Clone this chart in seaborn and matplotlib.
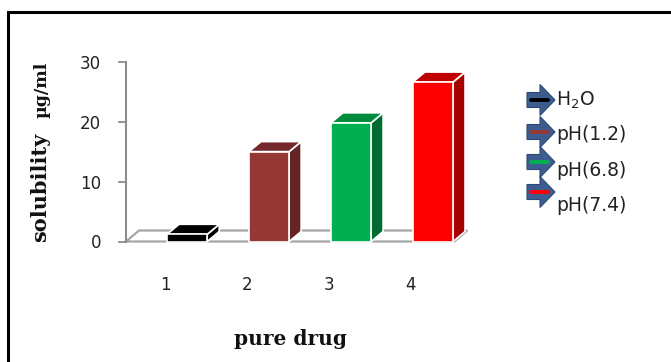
import numpy as np
import pandas as pd
import matplotlib
matplotlib.use("Agg")
import matplotlib.pyplot as plt
from matplotlib.patches import Polygon, Rectangle
from matplotlib.lines import Line2D
import seaborn as sns

# Solubility of the pure drug in each medium (µg/ml)
media = ["H$_2$O", "pH(1.2)", "pH(6.8)", "pH(7.4)"]
groups = ["1", "2", "3", "4"]
solubility = [1.2, 15.0, 19.8, 26.6]
front_colors = ["#000000", "#953735", "#00b050", "#ff0000"]
side_colors = ["#000000", "#632523", "#006b30", "#a80000"]
top_colors = ["#000000", "#72282a", "#008a3c", "#c00000"]
y_ticks = [0, 10, 20, 30]

df = pd.DataFrame({"group": groups, "solubility": solubility, "medium": media})

sns.set_theme(style="white")
plt.rcParams["font.family"] = ["DejaVu Sans"]
plt.rcParams["mathtext.default"] = "regular"

W, H = 671, 362
fig = plt.figure(figsize=(W / 100, H / 100), dpi=100)
fig.patch.set_facecolor("white")

def fx(px):
    return px / W

def fy(py):
    return 1 - py / H

ax_left, ax_right, ax_top, ax_bottom = 126, 480, 61.7, 241.5
ax = fig.add_axes([fx(ax_left), fy(ax_bottom), fx(ax_right - ax_left), (ax_bottom - ax_top) / H])
ax.set_facecolor("none")

sns.barplot(data=df, x="group", y="solubility", hue="group", palette=front_colors,
            saturation=1, width=0.49, edgecolor="white", linewidth=1.2, legend=False,
            ax=ax, zorder=3)

xmin, xmax = -0.746, 3.574
ax.set_xlim(xmin, xmax)
ax.set_ylim(0, 30)

# pixel -> data conversion for the 3D depth
ppx = (ax_right - ax_left) / (xmax - xmin)
ppy = (ax_bottom - ax_top) / 30.0
dxd, dyd = 12 / ppx, 10 / ppy

# floor of the 3D chart
floor_right = 3.26
floor = Polygon([(xmin, 0), (floor_right, 0), (floor_right + 13 / ppx, 11 / ppy),
                 (xmin + 13 / ppx, 11 / ppy)], closed=True, facecolor="white",
                edgecolor="#a6a6a6", linewidth=1.6, zorder=1, clip_on=False)
ax.add_patch(floor)

# side and top faces of each bar
for patch, sc, tc in zip(ax.patches[:len(groups)], side_colors, top_colors):
    x0 = patch.get_x()
    w = patch.get_width()
    h = patch.get_height()
    x1 = x0 + w
    side = Polygon([(x1, 0), (x1 + dxd, dyd), (x1 + dxd, h + dyd), (x1, h)], closed=True,
                   facecolor=sc, edgecolor="white", linewidth=1.2, zorder=2.5, clip_on=False)
    top = Polygon([(x0, h), (x1, h), (x1 + dxd, h + dyd), (x0 + dxd, h + dyd)], closed=True,
                  facecolor=tc, edgecolor="white", linewidth=1.2, zorder=2.6, clip_on=False)
    ax.add_patch(side)
    ax.add_patch(top)
    patch.set_clip_on(False)

for s in ["top", "right", "bottom"]:
    ax.spines[s].set_visible(False)
ax.spines["left"].set_color("#8c8c8c")
ax.spines["left"].set_linewidth(1.5)

ax.set_yticks(y_ticks)
ax.set_yticklabels([str(t) for t in y_ticks], fontsize=12, color="#222222")
ax.tick_params(axis="y", left=True, length=6, width=1.3, color="#8c8c8c", pad=12)

ax.set_xticks(np.arange(len(groups)) - 0.27)
ax.set_xticklabels(groups, fontsize=12, color="#222222")
ax.tick_params(axis="x", bottom=False, pad=19)
ax.set_xlabel("")
ax.set_ylabel("")

# axis titles
fig.text(fx(290), fy(339), "pure drug", fontsize=14.5, fontweight="bold",
         family="DejaVu Serif", ha="center", va="center", color="#111111")
fig.text(fx(40), fy(187), "solubility", fontsize=15, fontweight="bold",
         family="DejaVu Serif", rotation=90, ha="center", va="center", color="#111111")
fig.text(fx(42), fy(90), "µg/ml", fontsize=12.5, fontweight="bold",
         family="DejaVu Serif", rotation=90, ha="center", va="center", color="#111111")

# legend: block arrows with a coloured key line, plus labels
arrow_y = [100, 132, 162, 192]
text_y = [100, 135, 170, 205]
for label, col, ay, ty in zip(media, front_colors, arrow_y, text_y):
    pts = [(527, ay - 7.5), (540, ay - 7.5), (540, ay - 15.5), (555, ay),
           (540, ay + 15.5), (540, ay + 7.5), (527, ay + 7.5)]
    arrow = Polygon([(fx(px), fy(py)) for px, py in pts], closed=True,
                    transform=fig.transFigure, facecolor="#3d5c8f", edgecolor="#2f4a78",
                    linewidth=0.8)
    fig.add_artist(arrow)
    fig.add_artist(Line2D([fx(531), fx(548)], [fy(ay), fy(ay)], color=col, linewidth=2.8,
                          transform=fig.transFigure))
    fig.text(fx(556), fy(ty), label, fontsize=13.5, ha="left", va="center", color="#222222")

# outer frame
fig.add_artist(Rectangle((fx(8), fy(380)), fx(700), (380 - 12) / H, transform=fig.transFigure,
                         fill=False, edgecolor="black", linewidth=2.2))

fig.savefig("out.png", dpi=100, facecolor="white")
